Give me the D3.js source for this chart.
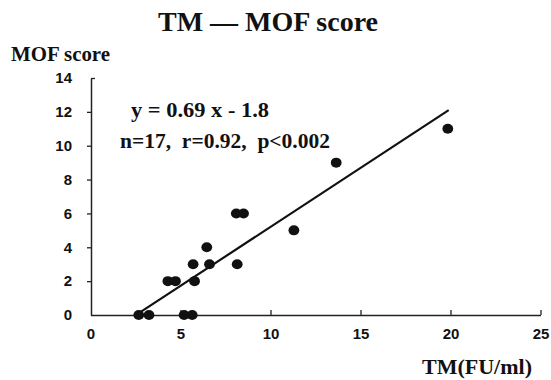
<!DOCTYPE html>
<html><head><meta charset="utf-8">
<script src="https://cdn.jsdelivr.net/npm/d3@7"></script>
<style>body{margin:0;background:#fff}svg{display:block}</style>
</head><body>
<svg id="c" width="551" height="380"></svg>
<script>
const tmValues  = [2.68, 3.25, 5.2, 5.65, 4.3, 4.72, 5.78, 5.7, 6.61, 8.15, 6.46, 8.1, 8.5, 11.3, 13.65, 19.85];
const mofValues = [0, 0, 0, 0, 2, 2, 2, 3, 3, 3, 4, 6, 6, 5, 9, 11];
const xTicks = [0, 5, 10, 15, 20, 25];
const yTicks = [0, 2, 4, 6, 8, 10, 12, 14];
const fitX = [2.6, 19.9];
const fitY = [0.05, 12.1];
const titleText = "TM \u2014 MOF score";
const yLabel = "MOF score";
const xLabel = "TM(FU/ml)";
const eqText = "y = 0.69 x - 1.8";
const statText = "n=17,  r=0.92,  p<0.002";

const svg = d3.select("#c");
const x = d3.scaleLinear().domain([0, 25]).range([90.5, 540.5]);
const y = d3.scaleLinear().domain([0, 14]).range([315, 78]);
const serif = "'Liberation Serif','Times New Roman',serif";
const sans = "'Liberation Sans',Arial,Helvetica,sans-serif";

// title
svg.append("text").attr("x", 268).attr("y", 31).attr("text-anchor", "middle")
  .attr("font-family", serif).attr("font-weight", "bold").attr("font-size", 28)
  .attr("fill", "#111").text(titleText);
svg.append("text").attr("x", 11).attr("y", 61)
  .attr("font-family", serif).attr("font-weight", "bold").attr("font-size", 21)
  .attr("textLength", 99).attr("lengthAdjust", "spacingAndGlyphs")
  .attr("fill", "#111").text(yLabel);
svg.append("text").attr("x", 422).attr("y", 374)
  .attr("font-family", serif).attr("font-weight", "bold").attr("font-size", 22)
  .attr("textLength", 110).attr("lengthAdjust", "spacingAndGlyphs")
  .attr("fill", "#111").text(xLabel);

// y axis
const gy = svg.append("g").attr("transform", "translate(91,0)")
  .call(d3.axisLeft(y).tickValues(yTicks).tickSizeInner(4).tickSizeOuter(0).tickPadding(15));
gy.select(".domain").attr("stroke", "#222").attr("stroke-width", 1.5);
gy.selectAll(".tick line").attr("stroke", "#222").attr("stroke-width", 1.3);
gy.selectAll(".tick").filter(d => d === 14).select("line").attr("x2", 4);
gy.selectAll(".tick").filter(d => d === 0).select("line").remove();
gy.selectAll(".tick text").attr("font-family", sans).attr("font-weight", "bold")
  .attr("font-size", 15).attr("fill", "#111");

// x axis
const gx = svg.append("g").attr("transform", "translate(0,315)")
  .call(d3.axisBottom(x).tickValues(xTicks).tickSizeInner(-5).tickSizeOuter(0).tickPadding(13));
gx.select(".domain").attr("stroke", "#222").attr("stroke-width", 1.5);
gx.selectAll(".tick line").attr("stroke", "#222").attr("stroke-width", 1.3);
gx.selectAll(".tick").filter(d => d === 0).select("line").remove();
gx.selectAll(".tick text").attr("font-family", sans).attr("font-weight", "bold")
  .attr("font-size", 15).attr("fill", "#111");

// regression line
svg.append("line")
  .attr("x1", x(fitX[0])).attr("y1", y(fitY[0]))
  .attr("x2", x(fitX[1])).attr("y2", y(fitY[1]))
  .attr("stroke", "#111").attr("stroke-width", 2.2);

// points
svg.append("g").selectAll("ellipse").data(tmValues.map((v, i) => [v, mofValues[i]]))
  .join("ellipse")
  .attr("cx", d => x(d[0])).attr("cy", d => y(d[1]))
  .attr("rx", 5.4).attr("ry", 5).attr("fill", "#111");

// annotations
svg.append("text").attr("x", 131).attr("y", 117)
  .attr("font-family", serif).attr("font-weight", "bold").attr("font-size", 20)
  .attr("textLength", 138).attr("lengthAdjust", "spacingAndGlyphs")
  .attr("fill", "#111").style("white-space", "pre").text(eqText);
svg.append("text").attr("x", 120).attr("y", 148)
  .attr("font-family", serif).attr("font-weight", "bold").attr("font-size", 20)
  .attr("textLength", 210).attr("lengthAdjust", "spacingAndGlyphs")
  .attr("fill", "#111").style("white-space", "pre").text(statText);
</script>
</body></html>
